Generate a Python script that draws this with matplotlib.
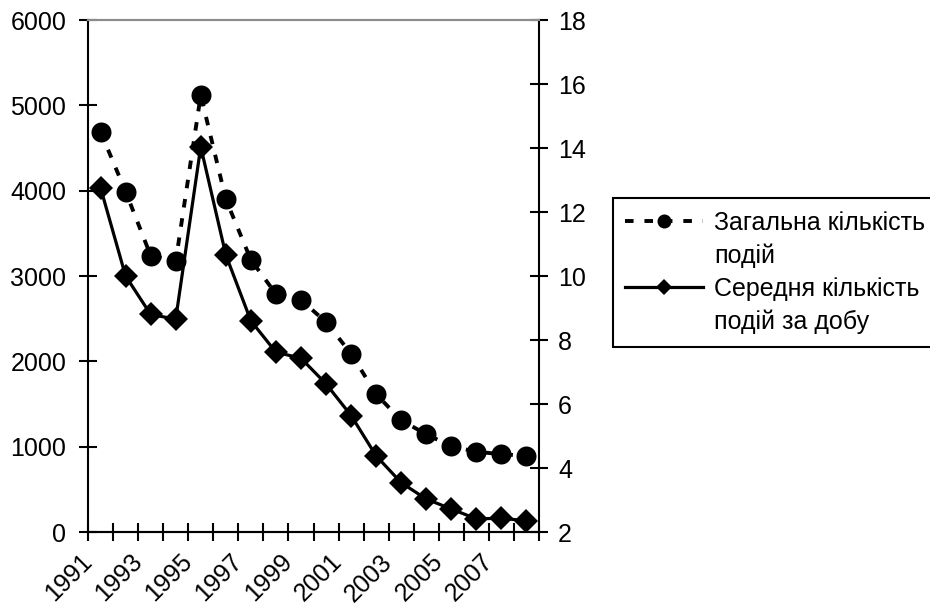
import matplotlib
matplotlib.use("Agg")
import matplotlib.pyplot as plt
from matplotlib.lines import Line2D
import numpy as np

plt.rcParams['font.family'] = ['Liberation Sans', 'DejaVu Sans']

# Data
years = list(range(1991, 2009))
total_events = [4690, 3990, 3240, 3170, 5120, 3900, 3190, 2790, 2720, 2460,
                2090, 1615, 1310, 1145, 1005, 940, 912, 892]
daily_events = [12.76, 10.00, 8.80, 8.65, 14.04, 10.66, 8.60, 7.62, 7.43, 6.63,
                5.64, 4.38, 3.54, 3.03, 2.72, 2.41, 2.43, 2.35]
left_ticks = [0, 1000, 2000, 3000, 4000, 5000, 6000]
right_ticks = [2, 4, 6, 8, 10, 12, 14, 16, 18]
label_total = "Загальна кількість\nподій"
label_daily = "Середня кількість\nподій за добу"

FS = 18
LW_AX = 1.5

fig = plt.figure(figsize=(9.3, 6.07), dpi=100)
ax = fig.add_axes([88 / 930, 1 - 532 / 607, (539 - 88) / 930, (532 - 20) / 607])
ax2 = ax.twinx()

x = np.arange(len(years))

l1, = ax.plot(x, total_events, color='black', lw=2.8, linestyle=(0, (2.2, 2.8)),
              marker='o', markersize=14.4, markeredgewidth=0, zorder=3)
l2, = ax2.plot(x, daily_events, color='black', lw=2.3, linestyle='-',
               marker='D', markersize=12, markeredgewidth=0, zorder=3)

ax.set_xlim(-0.5, len(years) - 0.5)
ax.set_ylim(left_ticks[0], left_ticks[-1])
ax2.set_ylim(right_ticks[0], right_ticks[-1])
ax.set_yticks(left_ticks)
ax.set_yticklabels([str(v) for v in left_ticks])
ax2.set_yticks(right_ticks)
ax2.set_yticklabels([str(v) for v in right_ticks])

# category boundaries carry the ticks; every other year is labelled
boundaries = np.arange(-0.5, len(years), 1.0)
xlabels = [str(y) if i % 2 == 0 else '' for i, y in enumerate(years)] + ['']
ax.set_xticks(boundaries)
ax.set_xticklabels(xlabels, rotation=45, ha='right', va='center',
                   rotation_mode='anchor')

for a in (ax, ax2):
    a.tick_params(direction='inout', length=13.5, width=LW_AX, labelsize=FS,
                  colors='black')
    for s in a.spines.values():
        s.set_linewidth(LW_AX)
ax.tick_params(axis='y', pad=9)
ax2.tick_params(axis='y', pad=7)
ax.tick_params(axis='x', pad=12)

ax.spines['top'].set_color('#8c8c8c')
ax2.spines['top'].set_color('#8c8c8c')
ax.spines['right'].set_visible(False)
ax2.spines['left'].set_visible(False)

# legend: handle aligned with first text line of each entry
blank = Line2D([], [], linestyle='none')
t1 = label_total.split('\n')
t2 = label_daily.split('\n')
leg = fig.legend([l1, blank, l2, blank], [t1[0], t1[1], t2[0], t2[1]],
                 loc='upper left', bbox_to_anchor=(612.7 / 930, 1 - 198 / 607),
                 bbox_transform=fig.transFigure, borderaxespad=0,
                 fontsize=FS, frameon=True, fancybox=False, framealpha=1,
                 edgecolor='black', handlelength=3.1, handletextpad=0.45,
                 labelspacing=0.36, borderpad=0.5, markerscale=0.7)
leg.get_frame().set_linewidth(1.5)

fig.savefig('out.png', dpi=100, facecolor='white')
